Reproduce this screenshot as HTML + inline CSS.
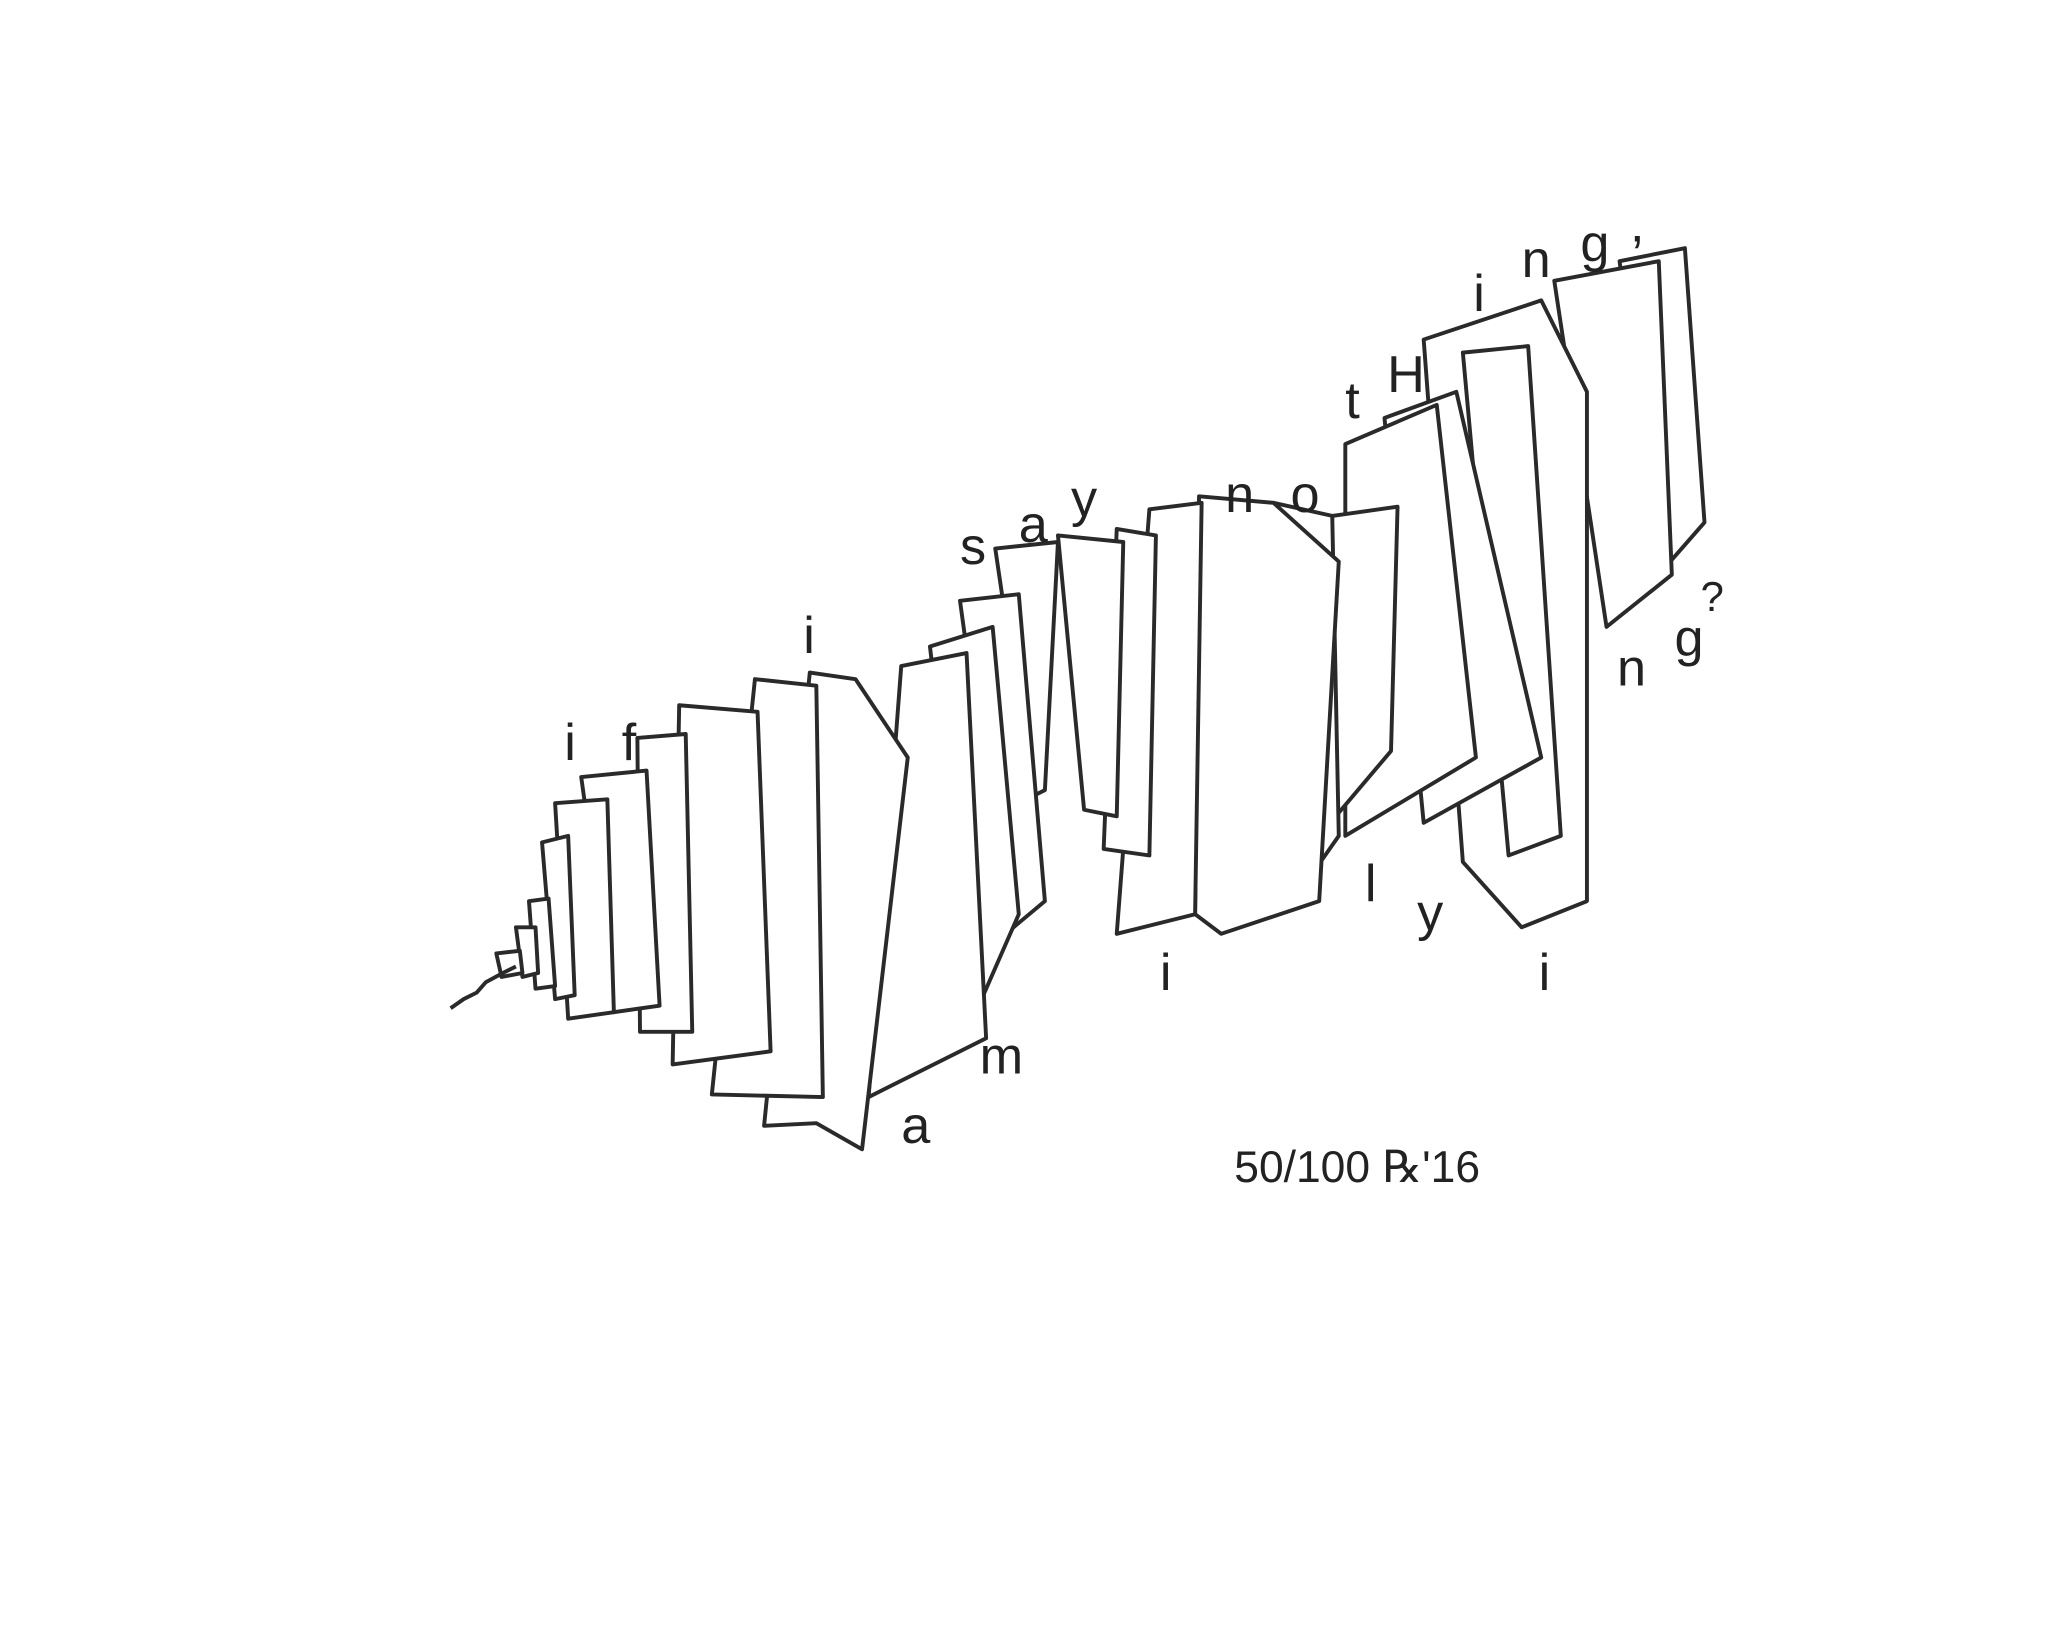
<!DOCTYPE html>
<html><head><meta charset="utf-8"><style>
html,body{margin:0;padding:0;background:#fff;}
svg{display:block;}
text{font-family:"Liberation Sans",sans-serif;fill:#222;}
</style></head><body>
<svg width="2048" height="1643" viewBox="0 0 1568 1258" preserveAspectRatio="none" xmlns="http://www.w3.org/2000/svg">
<rect width="1568" height="1258" fill="#fff"/>
<g fill="#fff" stroke="#2a2a2a" stroke-width="3" stroke-linejoin="round">
<!-- right half drawn first (behind) -->
<polygon points="1240,200 1290,190 1305,400 1270,440"/>
<polygon points="1190,215 1270,200 1280,440 1230,480"/>
<polygon points="1090,260 1180,230 1215,300 1215,690 1165,710 1120,660"/>
<polygon points="1120,270 1170,265 1195,640 1155,655"/>
<polygon points="1060,320 1115,300 1180,580 1090,630"/>
<polygon points="1030,340 1100,310 1130,580 1030,640"/>
<polygon points="1020,395 1070,388 1065,575 1010,640"/>
<polygon points="975,385 1020,395 1025,640 990,690"/>
<polygon points="918,380 975,385 1025,430 1010,690 935,715 915,700"/>
<polygon points="880,390 920,385 915,700 855,715"/>
<polygon points="855,405 885,410 880,655 845,650"/>
<polygon points="810,410 860,415 855,625 830,620"/>
<polygon points="762,420 810,415 800,605 790,610"/>
<polygon points="735,460 780,455 800,690 770,715"/>
<polygon points="712,495 760,480 780,700 745,780"/>
<polygon points="690,510 740,500 755,795 665,840"/>
<polygon points="620,515 655,520 695,580 660,880 625,860 585,862"/>
<polygon points="578,520 625,525 630,840 545,838"/>
<polygon points="520,540 580,545 590,805 515,815"/>
<polygon points="488,565 525,562 530,790 490,790"/>
<polygon points="445,595 495,590 505,770 470,775"/>
<polygon points="425,615 465,612 470,775 435,780"/>
<polygon points="415,645 435,640 440,762 425,765"/>
<polygon points="405,690 420,688 425,755 410,757"/>
<polygon points="395,710 410,710 412,745 400,748"/>
<polygon points="380,730 398,728 400,745 384,748"/>
</g>
<path d="M345,772 L355,765 L365,760 L372,752 L385,745 L395,740" fill="none" stroke="#2a2a2a" stroke-width="3"/>
<g font-size="40">
<text x="432" y="582">i</text><text x="476" y="582">f</text>
<text x="615" y="500">i</text>
<text x="735" y="432">s</text><text x="780" y="415">a</text><text x="820" y="395">y</text>
<text x="938" y="392">n</text><text x="988" y="392">o</text>
<text x="1030" y="320">t</text><text x="1062" y="300">H</text>
<text x="1128" y="238">i</text><text x="1165" y="212">n</text><text x="1210" y="200">g</text><text x="1248" y="185">,</text>
<text x="1238" y="525">n</text><text x="1282" y="502">g</text><text x="1302" y="468" font-size="32">?</text>
<text x="1045" y="690">l</text><text x="1085" y="712">y</text>
<text x="1178" y="758">i</text><text x="888" y="758">i</text>
<text x="690" y="875">a</text><text x="750" y="822">m</text>
<text x="945" y="905" font-size="34">50/100  ℞'16</text>
</g>
</svg>
</body></html>
